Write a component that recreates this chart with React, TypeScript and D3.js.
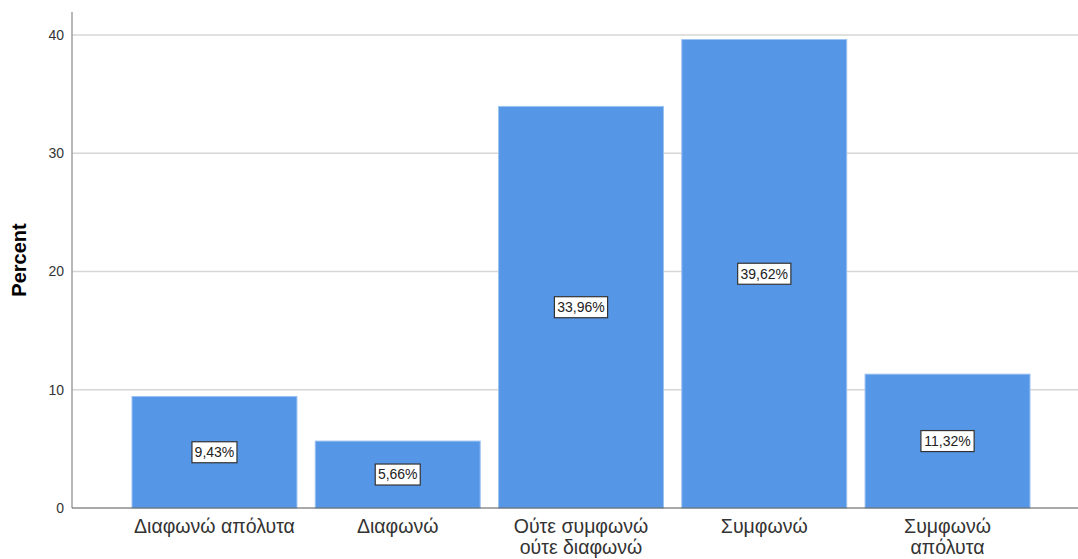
import * as d3 from "d3";

const WIDTH = 1078;
const HEIGHT = 559;
const MARGIN = { top: 12, left: 72, right: 0, bottom: 51 };

const categories = [
  ["Διαφωνώ απόλυτα"],
  ["Διαφωνώ"],
  ["Ούτε συμφωνώ", "ούτε διαφωνώ"],
  ["Συμφωνώ"],
  ["Συμφωνώ", "απόλυτα"],
];
const percents = [9.43, 5.66, 33.96, 39.62, 11.32];
const yTicks = [0, 10, 20, 30, 40];

const FONT = "'Liberation Sans', Arial, sans-serif";

const App = () => {
  const keys = categories.map((c) => c.join(" "));
  const x = d3.scaleBand().domain(keys).range([132, 1030]).paddingInner(0.1).paddingOuter(0);
  const y = d3.scaleLinear().domain([0, 40]).range([HEIGHT - MARGIN.bottom, 35]);

  return (
    <svg
      width={WIDTH}
      height={HEIGHT}
      style={{ position: "absolute", top: 0, left: 0, background: "#fff" }}
      fontFamily={FONT}
    >
      {/* grid */}
      {yTicks.slice(1).map((t) => (
        <line key={t} x1={MARGIN.left} x2={WIDTH} y1={y(t)} y2={y(t)} stroke="#d6d6d6" strokeWidth={1.5} />
      ))}
      {/* bars */}
      {percents.map((v, i) => (
        <rect
          key={keys[i]}
          x={x(keys[i])}
          y={y(v)}
          width={x.bandwidth()}
          height={y(0) - y(v)}
          fill="#5596e6"
          stroke="#9cc2f0"
          strokeWidth={1}
        />
      ))}
      {/* axes */}
      <line x1={MARGIN.left} x2={MARGIN.left} y1={MARGIN.top} y2={y(0)} stroke="#a0a0a0" strokeWidth={1.5} />
      <line x1={MARGIN.left} x2={WIDTH} y1={y(0)} y2={y(0)} stroke="#555" strokeWidth={1} />
      {yTicks.map((t) => (
        <text key={t} x={MARGIN.left - 8} y={y(t)} dy="0.35em" textAnchor="end" fontSize={14} fill="#333">
          {t}
        </text>
      ))}
      <text
        transform={`translate(26, ${(y(0) + MARGIN.top) / 2}) rotate(-90)`}
        textAnchor="middle"
        fontSize={20}
        fontWeight="bold"
        fill="#000"
      >
        Percent
      </text>
      {/* category labels */}
      {categories.map((lines, i) => (
        <text
          key={keys[i]}
          x={(x(keys[i]) ?? 0) + x.bandwidth() / 2}
          y={533}
          textAnchor="middle"
          fontSize={19.5}
          fill="#333"
        >
          {lines.map((l, j) => (
            <tspan key={j} x={(x(keys[i]) ?? 0) + x.bandwidth() / 2} dy={j === 0 ? 0 : 21}>
              {l}
            </tspan>
          ))}
        </text>
      ))}
      {/* value labels */}
      {percents.map((v, i) => {
        const cx = (x(keys[i]) ?? 0) + x.bandwidth() / 2;
        const cy = y(v / 2);
        const label = v.toFixed(2).replace(".", ",") + "%";
        const w = label.length * 8.2 + 4;
        return (
          <g key={keys[i]}>
            <rect x={cx - w / 2} y={cy - 10.5} width={w} height={21} fill="#fff" stroke="#333" strokeWidth={1.2} />
            <text x={cx} y={cy} dy="0.35em" textAnchor="middle" fontSize={14} fill="#222">
              {label}
            </text>
          </g>
        );
      })}
    </svg>
  );
};

export default App;
